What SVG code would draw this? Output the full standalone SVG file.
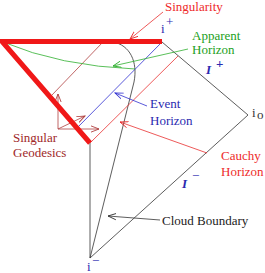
<svg xmlns="http://www.w3.org/2000/svg" width="265" height="273" viewBox="0 0 265 273">
<defs>
<style>
text{font-family:"Liberation Serif","Times New Roman",serif;font-size:13px}
.thin{fill:none;stroke-width:0.8}
.k{stroke:#333}
.r{stroke:#e83030}
.br{stroke:#b04040}
.g{stroke:#30b030}
.b{stroke:#3030d0}
</style>
<marker id="ak" viewBox="0 0 10 10" refX="9" refY="5" markerWidth="9" markerHeight="9" markerUnits="userSpaceOnUse" orient="auto"><path d="M0,1.5 L9,5 L0,8.5" fill="none" stroke="#333" stroke-width="1"/></marker>
<marker id="ar" viewBox="0 0 10 10" refX="9" refY="5" markerWidth="9" markerHeight="9" markerUnits="userSpaceOnUse" orient="auto"><path d="M0,1.5 L9,5 L0,8.5" fill="none" stroke="#e83030" stroke-width="1"/></marker>
<marker id="abr" viewBox="0 0 10 10" refX="9" refY="5" markerWidth="9" markerHeight="9" markerUnits="userSpaceOnUse" orient="auto"><path d="M0,1.5 L9,5 L0,8.5" fill="none" stroke="#b04040" stroke-width="1"/></marker>
<marker id="ag" viewBox="0 0 10 10" refX="9" refY="5" markerWidth="9" markerHeight="9" markerUnits="userSpaceOnUse" orient="auto"><path d="M0,1.5 L9,5 L0,8.5" fill="none" stroke="#30b030" stroke-width="1"/></marker>
<marker id="ab" viewBox="0 0 10 10" refX="9" refY="5" markerWidth="9" markerHeight="9" markerUnits="userSpaceOnUse" orient="auto"><path d="M0,1.5 L9,5 L0,8.5" fill="none" stroke="#3030d0" stroke-width="1"/></marker>
</defs>
<rect width="265" height="273" fill="#fff"/>
<g id="connectors">
<path class="thin k" d="M162,42 L248,115 L90,258 L90,143"/>
<path class="thin k" d="M113,42 C130,45 138,62 134,82 L90,258"/>
<path class="thin br" d="M52,95 L103,42"/>
<path class="thin r" d="M90,143 L178,56"/>
<path class="thin b" d="M77,128 L162,42"/>
<path class="thin g" d="M3,42 Q60,66 135,69"/>
<path class="thin r" d="M163,12 L130,39" marker-end="url(#ar)"/>
<path class="thin g" d="M188,49 L113,66" marker-end="url(#ag)"/>
<path class="thin b" d="M147,106 L115,93" marker-end="url(#ab)"/>
<path class="thin r" d="M207,153 L120,122" marker-end="url(#ar)"/>
<path class="thin k" d="M160,220 L108,216" marker-end="url(#ak)"/>
<path class="thin br" d="M58,129 L58,94" marker-end="url(#abr)"/>
<path class="thin br" d="M58,129 L99,129" marker-end="url(#abr)"/>
<path class="thin br" d="M58,129 L85,116" marker-end="url(#abr)"/>
<path d="M162,41.5 L2,41.5 L90,143" fill="none" stroke="#f01818" stroke-width="5"/>
</g>
<g id="singularity"><text x="165" y="11" fill="#ee2a2a">Singularity</text></g>
<g id="iplus"><text x="161" y="33" fill="#2a2ab0">i</text><text x="166" y="26" fill="#2a2ab0" font-size="9">+</text></g>
<g id="apparent"><text x="192" y="40" fill="#22a022">Apparent</text><text x="192" y="54" fill="#22a022">Horizon</text></g>
<g id="scriplus"><text x="206" y="74" fill="#2a2ab0" font-style="italic" font-weight="bold" font-size="15">I</text><text x="216" y="67.5" fill="#2a2ab0" font-size="9" font-weight="bold">+</text></g>
<g id="izero"><text x="252" y="117" fill="#333">i</text><text x="257" y="119" fill="#333" font-size="8">o</text></g>
<g id="event"><text x="150" y="108" fill="#2a2ab0">Event</text><text x="150" y="125" fill="#2a2ab0">Horizon</text></g>
<g id="cauchy"><text x="221" y="160" fill="#ee2a2a">Cauchy</text><text x="221" y="176" fill="#ee2a2a">Horizon</text></g>
<g id="geodesics"><text x="13" y="142" fill="#a02828">Singular</text><text x="13" y="157" fill="#a02828">Geodesics</text></g>
<g id="scriminus"><text x="182" y="188" fill="#2a2ab0" font-style="italic" font-weight="bold" font-size="15">I</text><text x="192" y="180" fill="#2a2ab0" font-size="10">−</text></g>
<g id="cloud"><text x="162" y="225" fill="#222">Cloud Boundary</text></g>
<g id="iminus"><text x="87" y="271" fill="#2a2ab0">i</text><text x="92" y="265" fill="#2a2ab0" font-size="9">−</text></g>
</svg>
